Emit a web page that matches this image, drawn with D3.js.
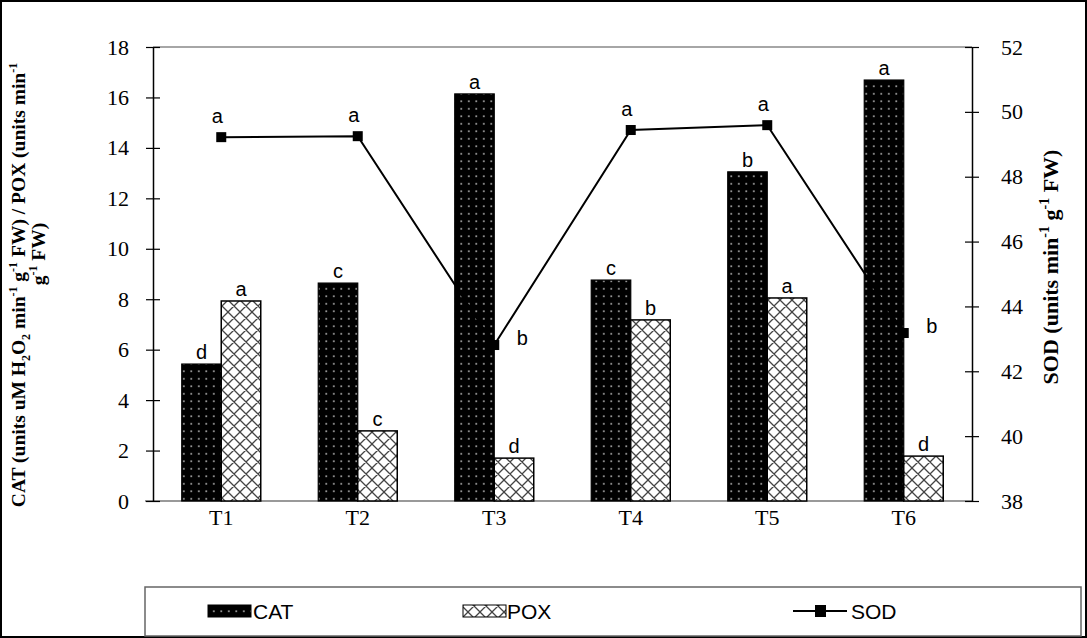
<!DOCTYPE html>
<html>
<head>
<meta charset="utf-8">
<script src="https://cdn.jsdelivr.net/npm/d3@7/dist/d3.min.js"></script>
<style>
  html, body { margin: 0; padding: 0; background: #fff; }
  svg { display: block; }
</style>
</head>
<body>
<svg id="chart" width="1087" height="638"></svg>
<script>
// Treatments and enzyme activities
const treatments = ["T1", "T2", "T3", "T4", "T5", "T6"];
const catValues = [5.43, 8.64, 16.14, 8.76, 13.05, 16.69];
const poxValues = [7.93, 2.78, 1.70, 7.18, 8.05, 1.78];
const sodValues = [49.22, 49.25, 42.81, 49.44, 49.59, 43.18];

// Significance letters
const catLetters = ["d", "c", "a", "c", "b", "a"];
const poxLetters = ["a", "c", "d", "b", "a", "d"];
const sodLetters = ["a", "a", "b", "a", "a", "b"];
const sodLetterSide = ["above", "above", "right", "above", "above", "right"];

// Axis ticks
const leftTicks = [0, 2, 4, 6, 8, 10, 12, 14, 16, 18];
const rightTicks = [38, 40, 42, 44, 46, 48, 50, 52];

const svg = d3.select("#chart");
const W = 1087, H = 638;
const plot = { left: 153, right: 972, top: 47, bottom: 501 };

// Outer frame
svg.append("rect").attr("x", 1).attr("y", 1).attr("width", W - 2).attr("height", H - 2)
  .attr("fill", "#fff").attr("stroke", "#000").attr("stroke-width", 2);

// Fill patterns
const defs = svg.append("defs");
const dots = defs.append("pattern").attr("id", "dots").attr("patternUnits", "userSpaceOnUse")
  .attr("width", 7.5).attr("height", 7.5);
dots.append("rect").attr("width", 7.5).attr("height", 7.5).attr("fill", "#000");
dots.append("rect").attr("x", 3).attr("y", 3).attr("width", 1.6).attr("height", 1.6).attr("fill", "#bbb");

const hatch = defs.append("pattern").attr("id", "hatch").attr("patternUnits", "userSpaceOnUse")
  .attr("width", 12).attr("height", 12);
hatch.append("rect").attr("width", 12).attr("height", 12).attr("fill", "#fff");
hatch.append("path").attr("d", "M0,0L12,12M12,0L0,12M-1,11L1,13M11,-1L13,1M-1,1L1,-1M11,13L13,11")
  .attr("stroke", "#444").attr("stroke-width", 1.3).attr("fill", "none");

// Scales
const x = d3.scaleBand().domain(treatments).range([plot.left, plot.right]).paddingInner(0).paddingOuter(0);
const yL = d3.scaleLinear().domain([0, 18]).range([plot.bottom, plot.top]);
const yR = d3.scaleLinear().domain([38, 52]).range([plot.bottom, plot.top]);
const barW = 39.5;

// Plot-area top edge and baseline
svg.append("line").attr("x1", plot.left).attr("x2", plot.right).attr("y1", plot.top).attr("y2", plot.top)
  .attr("stroke", "#888").attr("stroke-width", 1.5);
svg.append("line").attr("x1", plot.left - 8).attr("x2", plot.right).attr("y1", plot.bottom).attr("y2", plot.bottom)
  .attr("stroke", "#777").attr("stroke-width", 1.5);

// Bars
const cx = d => x(d) + x.bandwidth() / 2;
svg.append("g").selectAll("rect").data(treatments).join("rect")
  .attr("x", d => cx(d) - barW).attr("width", barW)
  .attr("y", (d, i) => yL(catValues[i])).attr("height", (d, i) => yL(0) - yL(catValues[i]))
  .attr("fill", "url(#dots)").attr("stroke", "#000").attr("stroke-width", 1.2);
svg.append("g").selectAll("rect").data(treatments).join("rect")
  .attr("x", d => cx(d)).attr("width", barW)
  .attr("y", (d, i) => yL(poxValues[i])).attr("height", (d, i) => yL(0) - yL(poxValues[i]))
  .attr("fill", "url(#hatch)").attr("stroke", "#000").attr("stroke-width", 1.5);

// Letters on bars
const letterFont = "'Liberation Sans', Arial, sans-serif";
svg.append("g").selectAll("text").data(treatments).join("text")
  .attr("x", d => cx(d) - barW / 2).attr("y", (d, i) => yL(catValues[i]) - 5)
  .attr("text-anchor", "middle").attr("font-family", letterFont).attr("font-size", 20)
  .text((d, i) => catLetters[i]);
svg.append("g").selectAll("text").data(treatments).join("text")
  .attr("x", d => cx(d) + barW / 2).attr("y", (d, i) => yL(poxValues[i]) - 5)
  .attr("text-anchor", "middle").attr("font-family", letterFont).attr("font-size", 20)
  .text((d, i) => poxLetters[i]);

// SOD line
const line = d3.line().x(d => cx(d)).y((d, i) => yR(sodValues[i]));
svg.append("path").datum(treatments).attr("d", line)
  .attr("fill", "none").attr("stroke", "#000").attr("stroke-width", 2);
svg.append("g").selectAll("rect").data(treatments).join("rect")
  .attr("x", d => cx(d) - 5).attr("y", (d, i) => yR(sodValues[i]) - 5)
  .attr("width", 10).attr("height", 10).attr("fill", "#000");
svg.append("g").selectAll("text").data(treatments).join("text")
  .attr("x", (d, i) => sodLetterSide[i] === "right" ? cx(d) + 28 : cx(d) - 4)
  .attr("y", (d, i) => sodLetterSide[i] === "right" ? yR(sodValues[i]) : yR(sodValues[i]) - 14)
  .attr("text-anchor", "middle").attr("font-family", letterFont).attr("font-size", 20)
  .text((d, i) => sodLetters[i]);

// Axes
const tickFont = "'Liberation Serif', 'Times New Roman', serif";
const gL = svg.append("g").attr("transform", `translate(${plot.left},0)`)
  .call(d3.axisLeft(yL).tickValues(leftTicks).tickSize(0).tickPadding(24));
gL.select(".domain").attr("stroke", "#000").attr("stroke-width", 1.5);
gL.selectAll(".tick text").attr("font-family", tickFont).attr("font-size", 22).attr("fill", "#000");
gL.selectAll(".tick").append("line").attr("x1", -7).attr("x2", 7).attr("stroke", "#000").attr("stroke-width", 1.2);

const gR = svg.append("g").attr("transform", `translate(${plot.right},0)`)
  .call(d3.axisRight(yR).tickValues(rightTicks).tickSize(0).tickPadding(29));
gR.select(".domain").attr("stroke", "#000").attr("stroke-width", 1.5);
gR.selectAll(".tick text").attr("font-family", tickFont).attr("font-size", 22).attr("fill", "#000");
gR.selectAll(".tick").append("line").attr("x1", -7).attr("x2", 7).attr("stroke", "#000").attr("stroke-width", 1.2);

const gX = svg.append("g").attr("transform", `translate(0,${plot.bottom})`)
  .call(d3.axisBottom(x).tickSize(0).tickPadding(8));
gX.select(".domain").remove();
gX.selectAll(".tick text").attr("font-family", tickFont).attr("font-size", 22).attr("fill", "#000");

// Axis titles: sub/superscripts shifted with dy, the following run shifted back
function richTitle(sel, parts, base, small) {
  let pending = 0;
  parts.forEach(p => {
    if (p.t === "n") {
      sel.append("tspan").attr("font-size", base).attr("dy", pending).text(p.s);
      pending = 0;
    } else {
      const shift = p.t === "sup" ? -base * 0.4 : base * 0.25;
      sel.append("tspan").attr("font-size", small).attr("dy", pending + shift).text(p.s);
      pending = -shift;
    }
  });
}
const leftTitle = svg.append("text").attr("transform", "translate(25,285) rotate(-90)")
  .attr("text-anchor", "middle").attr("font-family", tickFont).attr("font-weight", "bold");
richTitle(leftTitle, [
  { t: "n", s: "CAT (units uM H" }, { t: "sub", s: "2" }, { t: "n", s: "O" }, { t: "sub", s: "2" },
  { t: "n", s: " min" }, { t: "sup", s: "-1" }, { t: "n", s: " g" }, { t: "sup", s: "-1" },
  { t: "n", s: " FW) / POX (units min" }, { t: "sup", s: "-1" }
], 19.5, 12);

const leftTitle2 = svg.append("text").attr("transform", "translate(45,254) rotate(-90)")
  .attr("text-anchor", "middle").attr("font-family", tickFont).attr("font-weight", "bold");
richTitle(leftTitle2, [{ t: "n", s: "g" }, { t: "sup", s: "-1" }, { t: "n", s: " FW)" }], 19.5, 12);

const rightTitle = svg.append("text").attr("transform", "translate(1058,267) rotate(-90)")
  .attr("text-anchor", "middle").attr("font-family", tickFont).attr("font-weight", "bold");
richTitle(rightTitle, [
  { t: "n", s: "SOD (units min" }, { t: "sup", s: "-1" }, { t: "n", s: " g" }, { t: "sup", s: "-1" }, { t: "n", s: " FW)" }
], 22, 14);

// Legend
const legend = svg.append("g");
legend.append("rect").attr("x", 145).attr("y", 587).attr("width", 936).attr("height", 49)
  .attr("fill", "#fff").attr("stroke", "#666").attr("stroke-width", 1.5);
const legY = 611;
legend.append("rect").attr("x", 208).attr("y", legY - 6).attr("width", 43).attr("height", 12)
  .attr("fill", "url(#dots)").attr("stroke", "#000").attr("stroke-width", 1);
legend.append("text").attr("x", 253).attr("y", legY + 8).attr("font-family", letterFont).attr("font-size", 21).text("CAT");
legend.append("rect").attr("x", 463).attr("y", legY - 6).attr("width", 43).attr("height", 12)
  .attr("fill", "url(#hatch)").attr("stroke", "#000").attr("stroke-width", 1);
legend.append("text").attr("x", 507).attr("y", legY + 8).attr("font-family", letterFont).attr("font-size", 21).text("POX");
legend.append("line").attr("x1", 793).attr("x2", 847).attr("y1", legY).attr("y2", legY)
  .attr("stroke", "#000").attr("stroke-width", 2);
legend.append("rect").attr("x", 815).attr("y", legY - 6).attr("width", 11).attr("height", 12).attr("fill", "#000");
legend.append("text").attr("x", 851).attr("y", legY + 8).attr("font-family", letterFont).attr("font-size", 21).text("SOD");
</script>
</body>
</html>
